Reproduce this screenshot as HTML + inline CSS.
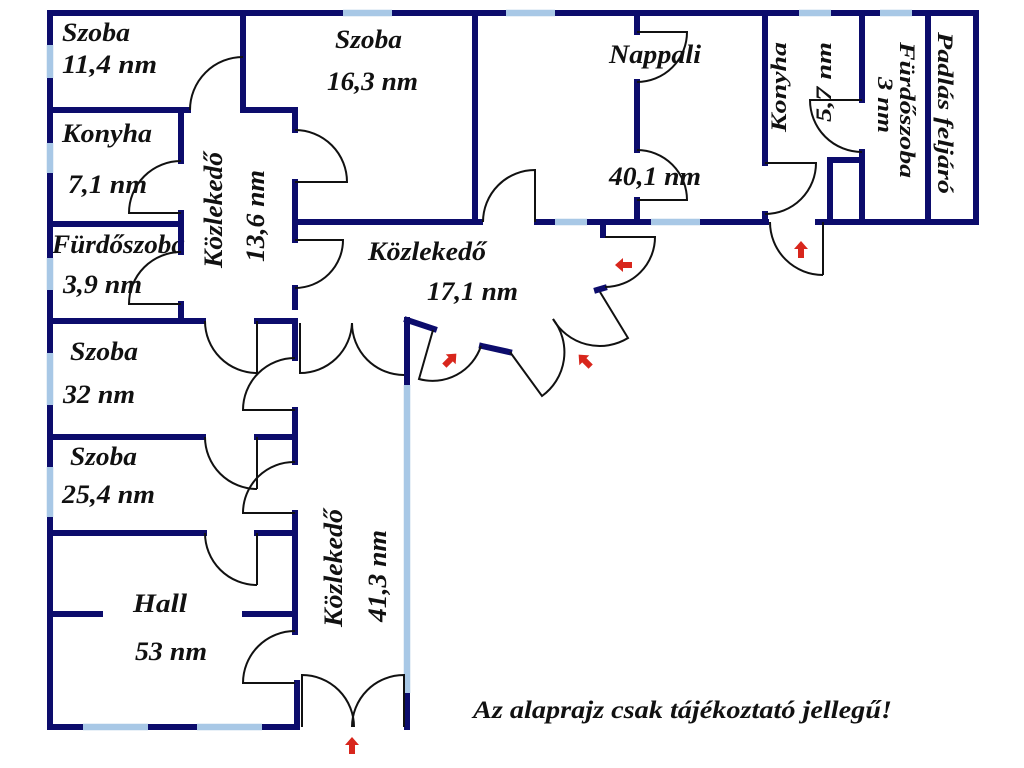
<!DOCTYPE html>
<html><head><meta charset="utf-8"><style>
html,body{margin:0;padding:0;background:#fff;}
svg{display:block}
text{font-family:"Liberation Serif",serif;font-weight:bold;font-style:italic;fill:#111;}
</style></head><body>
<svg width="1024" height="768" viewBox="0 0 1024 768" xmlns="http://www.w3.org/2000/svg">
<rect width="1024" height="768" fill="#fff"/>

<!-- Labels -->
<g font-size="26">
<text x="62" y="41" textLength="68" lengthAdjust="spacingAndGlyphs">Szoba</text>
<text x="62" y="73" textLength="95" lengthAdjust="spacingAndGlyphs">11,4 nm</text>
<text x="335" y="48" textLength="67" lengthAdjust="spacingAndGlyphs">Szoba</text>
<text x="327" y="90" textLength="91" lengthAdjust="spacingAndGlyphs">16,3 nm</text>
<text x="62" y="142" textLength="90" lengthAdjust="spacingAndGlyphs">Konyha</text>
<text x="68" y="193" textLength="79" lengthAdjust="spacingAndGlyphs">7,1 nm</text>
<text x="52" y="253" textLength="133" lengthAdjust="spacingAndGlyphs">Fürdőszoba</text>
<text x="63" y="293" textLength="79" lengthAdjust="spacingAndGlyphs">3,9 nm</text>
<text x="70" y="360" textLength="68" lengthAdjust="spacingAndGlyphs">Szoba</text>
<text x="63" y="403" textLength="72" lengthAdjust="spacingAndGlyphs">32 nm</text>
<text x="70" y="465" textLength="67" lengthAdjust="spacingAndGlyphs">Szoba</text>
<text x="62" y="503" textLength="93" lengthAdjust="spacingAndGlyphs">25,4 nm</text>
<text x="133" y="612" textLength="54" lengthAdjust="spacingAndGlyphs">Hall</text>
<text x="135" y="660" textLength="72" lengthAdjust="spacingAndGlyphs">53 nm</text>
<text x="368" y="260" textLength="118" lengthAdjust="spacingAndGlyphs">Közlekedő</text>
<text x="427" y="300" textLength="91" lengthAdjust="spacingAndGlyphs">17,1 nm</text>
<text x="609" y="63" textLength="92" lengthAdjust="spacingAndGlyphs">Nappali</text>
<text x="609" y="185" textLength="92" lengthAdjust="spacingAndGlyphs">40,1 nm</text>

<text transform="translate(222,210) rotate(-90)" x="-58" y="0" textLength="116" lengthAdjust="spacingAndGlyphs">Közlekedő</text>
<text transform="translate(264,216) rotate(-90)" x="-46" y="0" textLength="92" lengthAdjust="spacingAndGlyphs">13,6 nm</text>
<text transform="translate(342,568) rotate(-90)" x="-59" y="0" textLength="118" lengthAdjust="spacingAndGlyphs">Közlekedő</text>
<text transform="translate(386,576) rotate(-90)" x="-46" y="0" textLength="92" lengthAdjust="spacingAndGlyphs">41,3 nm</text>
</g>
<g font-size="22">
<text transform="translate(786,87) rotate(-90)" x="-45" y="0" textLength="90" lengthAdjust="spacingAndGlyphs">Konyha</text>
<text transform="translate(831,82) rotate(-90)" x="-40" y="0" textLength="80" lengthAdjust="spacingAndGlyphs">5,7 nm</text>
<text transform="translate(900,110) rotate(90)" x="-68" y="0" textLength="136" lengthAdjust="spacingAndGlyphs">Fürdőszoba</text>
<text transform="translate(878,105) rotate(90)" x="-28" y="0" textLength="56" lengthAdjust="spacingAndGlyphs">3 nm</text>
<text transform="translate(938,113) rotate(90)" x="-81" y="0" textLength="162" lengthAdjust="spacingAndGlyphs">Padlás feljáró</text>
</g>
<text x="473" y="718" font-size="25" textLength="419" lengthAdjust="spacingAndGlyphs">Az alaprajz csak tájékoztató jellegű!</text>

<!-- Navy walls -->
<g stroke="#0c0c6c" stroke-width="6" stroke-linecap="square" fill="none">
<path d="M50 13 H976 V222"/>
<path d="M50 13 V727 H297"/>
<path d="M818 222 H976"/>
<path d="M243 13 V110"/>
<path d="M50 110 H188"/>
<path d="M243 110 H295 V130"/>
<path d="M295 182 V240"/>
<path d="M295 288 V307"/>
<path d="M295 321 V358"/>
<path d="M295 410 V462"/>
<path d="M295 513 V632"/>
<path d="M297 683 V727"/>
<path d="M295 222 H480"/>
<path d="M475 13 V222"/>
<path d="M537 222 H766"/>
<path d="M603 222 V235"/>
<path d="M637 13 V32"/>
<path d="M637 82 V150"/>
<path d="M637 200 V222"/>
<path d="M765 13 V163"/>
<path d="M765 214 V222"/>
<path d="M830 160 V222"/>
<path d="M830 160 H862"/>
<path d="M862 152 V222"/>
<path d="M862 13 V100"/>
<path d="M928 13 V222"/>
<path d="M181 110 V161"/>
<path d="M181 213 V252"/>
<path d="M181 304 V321"/>
<path d="M50 224 H181"/>
<path d="M50 321 H203"/>
<path d="M257 321 H295"/>
<path d="M50 437 H203"/>
<path d="M257 437 H295"/>
<path d="M50 533 H204"/>
<path d="M257 533 H295"/>
<path d="M50 614 H100"/>
<path d="M245 614 H295"/>
<path d="M407 320 V727"/>
<path d="M407 320 L434 329"/>
<path d="M482 346 L509 352"/>
<path d="M597 290 L604 288"/>
</g>

<!-- Windows (light blue) -->
<g stroke="#a8c8e6" stroke-width="6.5" stroke-linecap="butt" fill="none">
<path d="M343 13 H392 M506 13 H555 M799 13 H831 M880 13 H912"/>
<path d="M50 45 V78 M50 143 V173 M50 258 V290 M50 353 V405 M50 467 V517"/>
<path d="M83 727 H148 M197 727 H262"/>
<path d="M407 385 V693"/>
<path d="M555 222 H587 M651 222 H700"/>
</g>

<!-- Doors -->
<g stroke="#111" stroke-width="2" fill="none">
<path d="M243 57 A53 53 0 0 0 190 110"/>
<path d="M295 182 H347 A52 52 0 0 0 295 130"/>
<path d="M181 213 H129 A52 52 0 0 1 181 161"/>
<path d="M181 304 H129 A52 52 0 0 1 181 252"/>
<path d="M295 240 H343 A48 48 0 0 1 295 288"/>
<path d="M257 321 V373 M205 321 A52 52 0 0 0 257 373"/>
<path d="M295 410 H243 A52 52 0 0 1 295 358"/>
<path d="M257 437 V489 M205 437 A52 52 0 0 0 257 489"/>
<path d="M295 513 H243 A51 51 0 0 1 295 462"/>
<path d="M257 533 V585 M205 533 A52 52 0 0 0 257 585"/>
<path d="M295 683 H243 A52 52 0 0 1 295 631"/>
<path d="M302 727 V675 A52 52 0 0 1 354 727"/>
<path d="M404 727 V675 A52 52 0 0 0 352 727"/>
<path d="M300 323 V373 A52 52 0 0 0 352 323"/>
<path d="M404 375 A52 52 0 0 1 352 323"/>
<path d="M433 330 L419 379 A51 51 0 0 0 481 346"/>
<path d="M510 352 L542 396 A54 54 0 0 0 553 319"/>
<path d="M600 292 L628 338 A54 54 0 0 1 553 319"/>
<path d="M605 237 H655 A50 50 0 0 1 605 287"/>
<path d="M535 222 V170 A52 52 0 0 0 483 222"/>
<path d="M637 32 H687 A50 50 0 0 1 637 82"/>
<path d="M637 200 H687 A50 50 0 0 0 637 150"/>
<path d="M765 163 H816 A51 51 0 0 1 765 214"/>
<path d="M862 100 H810 A52 52 0 0 0 862 152"/>
<path d="M823 222 V275 M770 222 A53 53 0 0 0 823 275"/>
</g>

<!-- Red arrows -->
<g fill="#d8261c">
<path transform="translate(352,746)" d="M0 -9 L7 -1 L3 -1 L3 8 L-3 8 L-3 -1 L-7 -1 Z"/>
<path transform="translate(801,250)" d="M0 -9 L7 -1 L3 -1 L3 8 L-3 8 L-3 -1 L-7 -1 Z"/>
<path transform="translate(624,265) rotate(-90)" d="M0 -9 L7 -1 L3 -1 L3 8 L-3 8 L-3 -1 L-7 -1 Z"/>
<path transform="translate(450,360) rotate(45)" d="M0 -9 L7 -1 L3 -1 L3 8 L-3 8 L-3 -1 L-7 -1 Z"/>
<path transform="translate(585,361) rotate(-45)" d="M0 -9 L7 -1 L3 -1 L3 8 L-3 8 L-3 -1 L-7 -1 Z"/>
</g>
</svg>
</body></html>
